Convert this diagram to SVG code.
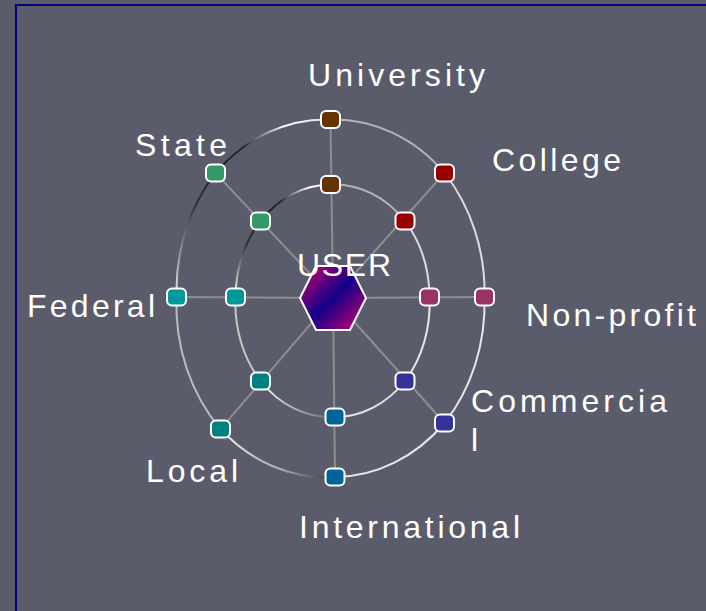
<svg xmlns="http://www.w3.org/2000/svg" width="706" height="611" viewBox="0 0 706 611">
<style>
.lbl{font-family:"Liberation Sans",Arial,sans-serif;font-size:32px;fill:#ffffff}
.spoke{stroke:#8e8e8e;stroke-width:2;fill:none}
.ring{stroke-width:2;fill:none}
.nd{stroke:#ffffff;stroke-width:2}
</style>
<defs>
<linearGradient id="hexg" x1="0" y1="0" x2="1" y2="1">
<stop offset="0" stop-color="#d4006a"/>
<stop offset="0.5" stop-color="#12008a"/>
<stop offset="1" stop-color="#d4006a"/>
</linearGradient>
<linearGradient id="g1" gradientUnits="userSpaceOnUse" x1="215" y1="173" x2="330" y2="120">
<stop offset="0" stop-color="#1e1e1e"/><stop offset="0.3" stop-color="#2a2a2a"/><stop offset="0.65" stop-color="#fff"/><stop offset="1" stop-color="#ddd"/>
</linearGradient>
<linearGradient id="g2" gradientUnits="userSpaceOnUse" x1="215" y1="173" x2="176" y2="297">
<stop offset="0" stop-color="#1e1e1e"/><stop offset="0.3" stop-color="#333"/><stop offset="1" stop-color="#eee"/>
</linearGradient>
<linearGradient id="g3" gradientUnits="userSpaceOnUse" x1="260" y1="221" x2="330" y2="184">
<stop offset="0" stop-color="#1e1e1e"/><stop offset="0.35" stop-color="#2a2a2a"/><stop offset="0.75" stop-color="#fff"/><stop offset="1" stop-color="#ddd"/>
</linearGradient>
<linearGradient id="g4" gradientUnits="userSpaceOnUse" x1="260" y1="221" x2="235" y2="297">
<stop offset="0" stop-color="#1e1e1e"/><stop offset="0.35" stop-color="#333"/><stop offset="1" stop-color="#fff"/>
</linearGradient>
<linearGradient id="g5" gradientUnits="userSpaceOnUse" x1="220" y1="429" x2="335" y2="477">
<stop offset="0" stop-color="#eee"/><stop offset="0.6" stop-color="#aaa"/><stop offset="1" stop-color="#333"/>
</linearGradient>
<linearGradient id="g6" gradientUnits="userSpaceOnUse" x1="260" y1="381" x2="335" y2="417">
<stop offset="0" stop-color="#fff"/><stop offset="1" stop-color="#666"/>
</linearGradient>
</defs>
<rect x="0" y="0" width="706" height="611" fill="#5b5c6b"/>
<path d="M16 611 V5 H706" fill="none" stroke="#000080" stroke-width="2"/>

<g id="connectors">
<line class="spoke" x1="333" y1="298" x2="330.5" y2="119.5"/>
<line class="spoke" x1="333" y1="298" x2="444.5" y2="173"/>
<line class="spoke" x1="333" y1="298" x2="484.5" y2="297"/>
<line class="spoke" x1="333" y1="298" x2="444.5" y2="423"/>
<line class="spoke" x1="333" y1="298" x2="335" y2="477"/>
<line class="spoke" x1="333" y1="298" x2="220.5" y2="429"/>
<line class="spoke" x1="333" y1="298" x2="176.5" y2="297"/>
<line class="spoke" x1="333" y1="298" x2="215.5" y2="173"/>
<!-- outer ring -->
<path class="ring" stroke="#b4b4b4" d="M330.5 119.5 A155 178 0 0 1 444.5 173"/>
<path class="ring" stroke="#dcdcdc" d="M444.5 173 A155 178 0 0 1 484.5 297"/>
<path class="ring" stroke="#e6e6e6" d="M484.5 297 A155 178 0 0 1 444.5 423"/>
<path class="ring" stroke="#e6e6e6" d="M444.5 423 A155 178 0 0 1 335 477"/>
<path class="ring" stroke="url(#g5)" d="M335 477 A155 178 0 0 1 220.5 429"/>
<path class="ring" stroke="#bdbdbd" d="M220.5 429 A155 178 0 0 1 176.5 297"/>
<path class="ring" stroke="url(#g2)" d="M176.5 297 A155 178 0 0 1 215.5 173"/>
<path class="ring" stroke="url(#g1)" d="M215.5 173 A155 178 0 0 1 330.5 119.5"/>
<!-- inner ring -->
<path class="ring" stroke="#b4b4b4" d="M330.5 184.5 A97 116 0 0 1 405 221"/>
<path class="ring" stroke="#dcdcdc" d="M405 221 A97 116 0 0 1 429.5 297"/>
<path class="ring" stroke="#e6e6e6" d="M429.5 297 A97 116 0 0 1 405 381"/>
<path class="ring" stroke="#e6e6e6" d="M405 381 A97 116 0 0 1 335 417"/>
<path class="ring" stroke="url(#g6)" d="M335 417 A97 116 0 0 1 260.5 381"/>
<path class="ring" stroke="#c8c8c8" d="M260.5 381 A97 116 0 0 1 235.5 297"/>
<path class="ring" stroke="url(#g4)" d="M235.5 297 A97 116 0 0 1 260.5 221"/>
<path class="ring" stroke="url(#g3)" d="M260.5 221 A97 116 0 0 1 330.5 184.5"/>
</g>

<g id="user">
<polygon points="300,298 316,266 350,266 366,298 350,330 316,330" fill="url(#hexg)" stroke="#ffffff" stroke-width="2"/>
<text class="lbl" x="297" y="276" textLength="94" lengthAdjust="spacing">USER</text>
</g>

<g id="university">
<rect class="nd" x="321" y="111" width="19" height="17" rx="5" fill="#663300"/>
<rect class="nd" x="321" y="176" width="19" height="17" rx="5" fill="#663300"/>
<text class="lbl" x="308" y="86" textLength="177" lengthAdjust="spacing">University</text>
</g>
<g id="college">
<rect class="nd" x="435" y="164.5" width="19" height="17" rx="5" fill="#990000"/>
<rect class="nd" x="395.5" y="212.5" width="19" height="17" rx="5" fill="#990000"/>
<text class="lbl" x="492" y="171" textLength="129" lengthAdjust="spacing">College</text>
</g>
<g id="nonprofit">
<rect class="nd" x="475" y="288.5" width="19" height="17" rx="5" fill="#993366"/>
<rect class="nd" x="420" y="288.5" width="19" height="17" rx="5" fill="#993366"/>
<text class="lbl" x="526" y="326" textLength="170" lengthAdjust="spacing">Non-profit</text>
</g>
<g id="commercial">
<rect class="nd" x="435" y="414.5" width="19" height="17" rx="5" fill="#333399"/>
<rect class="nd" x="395.5" y="372.5" width="19" height="17" rx="5" fill="#333399"/>
<text class="lbl" x="471" y="412" textLength="196" lengthAdjust="spacing">Commercia</text>
<text class="lbl" x="471" y="451">l</text>
</g>
<g id="international">
<rect class="nd" x="325.5" y="468.5" width="19" height="17" rx="5" fill="#006699"/>
<rect class="nd" x="325.5" y="408.5" width="19" height="17" rx="5" fill="#006699"/>
<text class="lbl" x="299" y="538" textLength="221" lengthAdjust="spacing">International</text>
</g>
<g id="local">
<rect class="nd" x="211" y="420.5" width="19" height="17" rx="5" fill="#008080"/>
<rect class="nd" x="251" y="372.5" width="19" height="17" rx="5" fill="#008080"/>
<text class="lbl" x="146" y="482" textLength="92" lengthAdjust="spacing">Local</text>
</g>
<g id="federal">
<rect class="nd" x="167" y="288.5" width="19" height="17" rx="5" fill="#009999"/>
<rect class="nd" x="226" y="288.5" width="19" height="17" rx="5" fill="#009999"/>
<text class="lbl" x="27" y="317" textLength="128" lengthAdjust="spacing">Federal</text>
</g>
<g id="state">
<rect class="nd" x="206" y="164.5" width="19" height="17" rx="5" fill="#339966"/>
<rect class="nd" x="251" y="212.5" width="19" height="17" rx="5" fill="#339966"/>
<text class="lbl" x="135" y="156" textLength="92" lengthAdjust="spacing">State</text>
</g>
</svg>
